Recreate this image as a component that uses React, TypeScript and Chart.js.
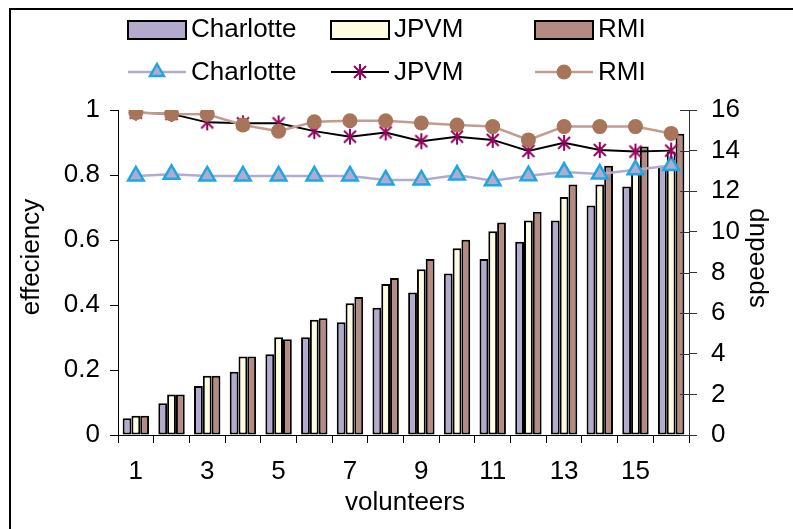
import React, { useEffect, useRef } from 'react';
import { Chart, registerables } from 'chart.js';

Chart.register(...registerables);

// ---- data ----
const volunteers = ['1', '2', '3', '4', '5', '6', '7', '8', '9', '10', '11', '12', '13', '14', '15', '16'];

// speedup (bars, right axis)
const speedupCharlotte = [0.82, 1.56, 2.41, 3.12, 3.97, 4.81, 5.55, 6.27, 7.01, 7.95, 8.67, 9.52, 10.56, 11.3, 12.23, 13.25];
const speedupJPVM = [0.95, 1.99, 2.92, 3.86, 4.81, 5.67, 6.49, 7.44, 8.16, 9.2, 10.03, 10.56, 11.72, 12.33, 13.1, 13.96];
const speedupRMI = [0.95, 1.99, 2.92, 3.86, 4.71, 5.75, 6.8, 7.73, 8.67, 9.61, 10.46, 10.99, 12.33, 13.25, 14.2, 14.83];

// efficiency (lines, left axis)
const effCharlotte = [0.797, 0.802, 0.797, 0.797, 0.797, 0.797, 0.797, 0.785, 0.785, 0.8, 0.782, 0.798, 0.809, 0.803, 0.816, 0.829];
const effJPVM = [0.992, 0.988, 0.962, 0.959, 0.959, 0.935, 0.918, 0.931, 0.904, 0.918, 0.908, 0.874, 0.899, 0.877, 0.872, 0.875];
const effRMI = [0.992, 0.988, 0.987, 0.954, 0.935, 0.964, 0.967, 0.967, 0.96, 0.954, 0.949, 0.908, 0.949, 0.949, 0.949, 0.928];

const seriesNames = ['Charlotte', 'JPVM', 'RMI'];

// ---- styles ----
const FONT = '"Liberation Sans", Arial, sans-serif';
const FS = 26;
const barFill = ['#B4AACE', '#FFFDE1', '#B58A82'];
const lineColor = ['#B4AACE', '#000000', '#C39B91'];
const triFill = '#B4AACE';
const triBorder = '#1CA8E2';
const starColor = '#99005F';
const dotColor = '#A8755A';

function makeStar(): HTMLCanvasElement {
  const c = document.createElement('canvas');
  c.width = 18;
  c.height = 18;
  const g = c.getContext('2d')!;
  g.strokeStyle = starColor;
  g.lineWidth = 2;
  g.beginPath();
  g.moveTo(9, 1);
  g.lineTo(9, 17);
  g.moveTo(3, 3);
  g.lineTo(15, 15);
  g.moveTo(15, 3);
  g.lineTo(3, 15);
  g.stroke();
  return c;
}

const decorPlugin = {
  id: 'decor',
  afterDraw(chart: any) {
    const ctx: CanvasRenderingContext2D = chart.ctx;
    const area = chart.chartArea;
    const y1 = chart.scales.y1;
    ctx.save();
    // frame
    ctx.fillStyle = '#000';
    ctx.fillRect(9, 8, 2, 530);
    ctx.fillRect(9, 8, 800, 2);

    // inner ticks of right axis
    ctx.strokeStyle = '#333';
    ctx.lineWidth = 1;
    ctx.beginPath();
    for (const t of y1.ticks) {
      const py = Math.round(y1.getPixelForValue(t.value)) + 0.5;
      ctx.moveTo(area.right - 9, py);
      ctx.lineTo(area.right, py);
    }
    ctx.stroke();

    // titles
    ctx.fillStyle = '#000';
    ctx.font = `${FS}px ${FONT}`;
    ctx.textAlign = 'center';
    ctx.textBaseline = 'middle';
    ctx.fillText('volunteers', 405, 503);
    ctx.save();
    ctx.translate(32, 257);
    ctx.rotate(-Math.PI / 2);
    ctx.fillText('effeciency', 0, 0);
    ctx.restore();
    ctx.save();
    ctx.translate(757, 258);
    ctx.rotate(-Math.PI / 2);
    ctx.fillText('speedup', 0, 0);
    ctx.restore();

    // legend
    const cols = [128, 331, 535];
    const boxW = 58;
    ctx.textAlign = 'left';
    ctx.textBaseline = 'alphabetic';
    for (let i = 0; i < 3; i++) {
      const x = cols[i];
      // row 1: bar boxes
      ctx.fillStyle = barFill[i];
      ctx.fillRect(x, 21, boxW, 18);
      ctx.strokeStyle = '#000';
      ctx.lineWidth = 2;
      ctx.strokeRect(x, 21, boxW, 18);
      ctx.fillStyle = '#000';
      ctx.fillText(seriesNames[i], x + boxW + 5, 37);
      // row 2: lines with markers
      const ly = 72;
      ctx.strokeStyle = lineColor[i];
      ctx.lineWidth = i === 1 ? 2 : 2.5;
      ctx.beginPath();
      ctx.moveTo(x, ly);
      ctx.lineTo(x + boxW, ly);
      ctx.stroke();
      const mx = x + boxW / 2;
      if (i === 0) {
        const r = 8;
        ctx.beginPath();
        ctx.moveTo(mx, ly - r);
        ctx.lineTo(mx + r * 0.866, ly + r / 2);
        ctx.lineTo(mx - r * 0.866, ly + r / 2);
        ctx.closePath();
        ctx.fillStyle = triFill;
        ctx.fill();
        ctx.strokeStyle = triBorder;
        ctx.lineWidth = 2.5;
        ctx.stroke();
      } else if (i === 1) {
        ctx.strokeStyle = starColor;
        ctx.lineWidth = 2;
        ctx.beginPath();
        ctx.moveTo(mx, ly - 8);
        ctx.lineTo(mx, ly + 8);
        ctx.moveTo(mx - 6, ly - 6);
        ctx.lineTo(mx + 6, ly + 6);
        ctx.moveTo(mx + 6, ly - 6);
        ctx.lineTo(mx - 6, ly + 6);
        ctx.stroke();
      } else {
        ctx.fillStyle = dotColor;
        ctx.beginPath();
        ctx.arc(mx, ly, 7.5, 0, Math.PI * 2);
        ctx.fill();
      }
      ctx.fillStyle = '#000';
      ctx.fillText(seriesNames[i], x + boxW + 5, 80);
    }
    ctx.restore();
  },
};

export default function App() {
  const ref = useRef<HTMLCanvasElement | null>(null);

  useEffect(() => {
    if (!ref.current) return;
    Chart.defaults.font.family = FONT;
    Chart.defaults.color = '#000';
    const star = makeStar();

    const barSets = [speedupCharlotte, speedupJPVM, speedupRMI].map((d, i) => ({
      type: 'bar' as const,
      label: seriesNames[i],
      data: d,
      yAxisID: 'y1',
      backgroundColor: barFill[i],
      borderColor: '#000',
      borderWidth: 2,
      borderSkipped: false,
      categoryPercentage: 0.74,
      barPercentage: 1,
      order: 10,
    }));

    const lineSets = [
      {
        type: 'line' as const,
        label: 'Charlotte',
        data: effCharlotte,
        yAxisID: 'y',
        borderColor: lineColor[0],
        borderWidth: 2.5,
        pointStyle: 'triangle',
        pointRadius: 9,
        pointBackgroundColor: triFill,
        pointBorderColor: triBorder,
        pointBorderWidth: 2.5,
        tension: 0,
        order: 3,
      },
      {
        type: 'line' as const,
        label: 'JPVM',
        data: effJPVM,
        yAxisID: 'y',
        borderColor: lineColor[1],
        borderWidth: 2,
        pointStyle: star,
        pointRadius: 9,
        tension: 0,
        order: 2,
      },
      {
        type: 'line' as const,
        label: 'RMI',
        data: effRMI,
        yAxisID: 'y',
        borderColor: lineColor[2],
        borderWidth: 2.5,
        pointStyle: 'circle',
        pointRadius: 7.5,
        pointBackgroundColor: dotColor,
        pointBorderColor: dotColor,
        pointBorderWidth: 0,
        tension: 0,
        order: 1,
      },
    ];

    const chart = new Chart(ref.current, {
      data: {
        labels: volunteers,
        datasets: [...barSets, ...lineSets] as any,
      },
      options: {
        responsive: false,
        animation: false,
        events: [],
        layout: { padding: { top: 110, left: 0, right: 0, bottom: 0 } },
        plugins: { legend: { display: false }, tooltip: { enabled: false } },
        scales: {
          x: {
            offset: true,
            grid: { offset: true, drawOnChartArea: false, tickLength: 8, color: '#000', lineWidth: 1 },
            border: { color: '#000', width: 1 },
            ticks: {
              autoSkip: false,
              maxRotation: 0,
              minRotation: 0,
              padding: 13,
              color: '#000',
              font: { size: FS, family: FONT },
              callback: (_v: any, i: number) => (i % 2 === 0 ? volunteers[i] : ''),
            },
            afterFit: (s: any) => {
              s.height = 94;
            },
          },
          y: {
            position: 'left',
            min: 0,
            max: 1,
            grid: { drawOnChartArea: false, tickLength: 8, color: '#000' },
            border: { color: '#000', width: 1 },
            ticks: {
              stepSize: 0.2,
              padding: 10,
              color: '#000',
              font: { size: FS, family: FONT },
              callback: (v: any) => String(Math.round(Number(v) * 10) / 10),
            },
            afterFit: (s: any) => {
              s.width = 118;
            },
          },
          y1: {
            position: 'right',
            min: 0,
            max: 16,
            grid: { drawOnChartArea: false, tickLength: 8, color: '#333' },
            border: { color: '#333', width: 1 },
            ticks: { stepSize: 2, padding: 14, color: '#000', font: { size: FS, family: FONT } },
            afterFit: (s: any) => {
              s.width = 104;
            },
          },
        },
      } as any,
      plugins: [decorPlugin],
    });
    return () => chart.destroy();
  }, []);

  return (
    <div style={{ position: 'fixed', left: 0, top: 0, width: 793, height: 529, background: '#fff' }}>
      <canvas ref={ref} width={793} height={529} style={{ display: 'block' }} />
    </div>
  );
}
